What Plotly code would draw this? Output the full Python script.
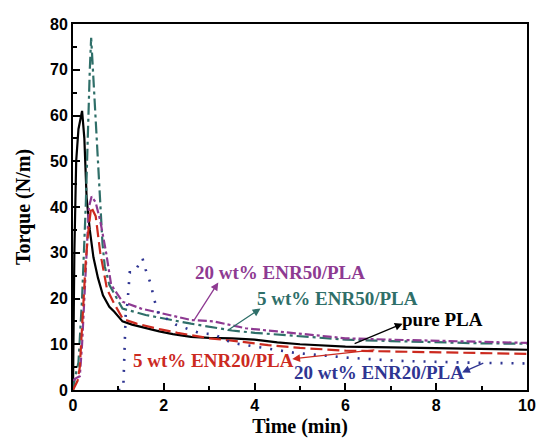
import plotly.graph_objects as go

# Data
t_pla = [0, 0.03, 0.07, 0.12, 0.2, 0.25, 0.3, 0.37, 0.45, 0.55, 0.66, 0.8, 0.91, 1.09, 1.3, 1.6, 1.9, 2.2, 2.6, 3.0, 3.5, 4.0, 4.5, 5.0, 5.5, 6.0, 7.0, 8.0, 9.0, 10.0]
v_pla = [0, 30, 50, 57, 61, 55, 42, 35, 29, 24.5, 20.7, 18.2, 17.1, 15.0, 14.3, 13.5, 12.8, 12.2, 11.6, 11.4, 11.3, 11.0, 10.4, 10.0, 9.7, 9.5, 9.3, 9.1, 8.9, 8.8]

t_e50_5 = [0, 0.05, 0.12, 0.2, 0.28, 0.33, 0.37, 0.4, 0.45, 0.5, 0.55, 0.6, 0.65, 0.7, 0.8, 1.09, 1.6, 2.6, 3.5, 4.0, 5.0, 6.0, 7.0, 8.0, 9.0, 10.0]
v_e50_5 = [0, 3, 6, 20, 40, 60, 70, 77, 68, 58, 50, 40, 32, 27, 23, 17.8, 16.4, 14.5, 13.0, 12.5, 11.8, 11.0, 10.7, 10.4, 10.2, 10.1]

t_e50_20 = [0, 0.05, 0.15, 0.2, 0.25, 0.3, 0.35, 0.41, 0.5, 0.6, 0.73, 0.84, 1.09, 1.5, 1.96, 2.6, 3.1, 3.8, 4.5, 5.0, 6.0, 7.0, 8.0, 9.0, 10.0]
v_e50_20 = [2, 2.5, 3, 10, 20, 30, 40, 42.3, 41, 37, 30, 23, 19.3, 17.8, 16.7, 15.3, 15.0, 13.5, 12.8, 12.3, 11.3, 11.0, 10.8, 10.5, 10.3]

t_e20_5 = [0, 0.1, 0.15, 0.22, 0.28, 0.33, 0.4, 0.5, 0.6, 0.75, 0.9, 1.1, 1.4, 1.9, 2.3, 3.0, 3.5, 4.3, 5.0, 6.0, 7.0, 8.0, 9.0, 10.0]
v_e20_5 = [0, 2, 5, 19, 28, 34, 40, 38, 30, 22, 19, 15.5, 14.5, 13.3, 12.5, 11.3, 10.8, 9.8, 9.2, 8.6, 8.4, 8.2, 8.0, 7.9]

t_e20_20 = [1.0, 1.08, 1.11, 1.13, 1.16, 1.2, 1.25, 1.35, 1.45, 1.53, 1.6, 1.72, 1.78, 1.89, 2.0, 2.26, 2.8, 3.1, 3.5, 4.2, 4.9, 6.0, 7.1, 8.6, 10.0]
v_e20_20 = [0, 0, 1, 10, 16.4, 19, 25.7, 25.7, 27.5, 28.8, 26.3, 23, 20, 16.7, 16, 14.3, 12.4, 12.2, 10.3, 9.2, 8.1, 7.1, 6.4, 6.0, 5.8]

x_ticks = [0, 2, 4, 6, 8, 10]
y_ticks = [0, 10, 20, 30, 40, 50, 60, 70, 80]

C_BLACK = "#000000"
C_TEAL = "#2F6F69"
C_PURPLE = "#8E3A92"
C_RED = "#CC2A1F"
C_BLUE = "#2F3592"

fig = go.Figure()
fig.add_trace(go.Scatter(x=t_pla, y=v_pla, mode="lines", line=dict(color=C_BLACK, width=2.2), name="pure PLA"))
fig.add_trace(go.Scatter(x=t_e50_5, y=v_e50_5, mode="lines", line=dict(color=C_TEAL, width=2.2, dash="12px,4px,3px,4px"), name="5 wt% ENR50/PLA"))
fig.add_trace(go.Scatter(x=t_e50_20, y=v_e50_20, mode="lines", line=dict(color=C_PURPLE, width=2.2, dash="dashdot"), name="20 wt% ENR50/PLA"))
fig.add_trace(go.Scatter(x=t_e20_5, y=v_e20_5, mode="lines", line=dict(color=C_RED, width=2.2, dash="12px,5px"), name="5 wt% ENR20/PLA"))
fig.add_trace(go.Scatter(x=t_e20_20, y=v_e20_20, mode="lines", line=dict(color=C_BLUE, width=2.6, dash="2px,9px"), name="20 wt% ENR20/PLA"))

ann_font = "Liberation Serif"
labels = [
    # text, text x, text y, color, arrow head (x,y), arrow tail (x,y)
    ("20 wt% ENR50/PLA", 4.55, 25.7, C_PURPLE, (3.2, 23.5), (2.65, 15.0)),
    ("5 wt% ENR50/PLA", 5.83, 19.9, C_TEAL, (4.13, 17.8), (3.37, 12.8)),
    ("pure PLA", 8.14, 15.4, C_BLACK, (7.26, 14.5), (6.17, 10.0)),
    ("5 wt% ENR20/PLA", 3.1, 6.4, C_RED, (4.83, 6.8), (6.67, 8.8)),
    ("20 wt% ENR20/PLA", 6.73, 3.85, C_BLUE, (8.57, 3.85), (9.07, 6.0)),
]
annotations = []
for text, tx, ty, col, head, tail in labels:
    annotations.append(dict(x=tx, y=ty, xref="x", yref="y", text="<b>%s</b>" % text, showarrow=False,
                            font=dict(family=ann_font, size=19, color=col)))
    annotations.append(dict(x=head[0], y=head[1], ax=tail[0], ay=tail[1], xref="x", yref="y", axref="x", ayref="y",
                            text="", showarrow=True, arrowhead=2, arrowsize=1.2, arrowwidth=1.3, arrowcolor=col))

fig.update_layout(
    width=536, height=437,
    margin=dict(l=65, r=11, t=8, b=55),
    plot_bgcolor="white", paper_bgcolor="white",
    showlegend=False,
    annotations=annotations,
    xaxis=dict(range=[0, 10], tickvals=x_ticks, ticks="inside", ticklen=7, tickwidth=2, tickcolor="black",
               showline=True, linewidth=2, linecolor="black", mirror=True, showgrid=False, zeroline=False,
               minor=dict(tickvals=[1, 3, 5, 7, 9], ticks="inside", ticklen=4, tickwidth=2, tickcolor="black"),
               tickfont=dict(family="Liberation Sans", size=16, color="black", weight="bold"),
               title=dict(text="<b>Time (min)</b>", font=dict(family="Liberation Serif", size=20, color="black"), standoff=6)),
    yaxis=dict(range=[0, 80], tickvals=y_ticks, ticks="inside", ticklen=7, tickwidth=2, tickcolor="black",
               showline=True, linewidth=2, linecolor="black", mirror=True, showgrid=False, zeroline=False,
               minor=dict(tickvals=[5, 15, 25, 35, 45, 55, 65, 75], ticks="inside", ticklen=4, tickwidth=2, tickcolor="black"),
               tickfont=dict(family="Liberation Sans", size=16, color="black", weight="bold"),
               title=dict(text="<b>Torque (N/m)</b>", font=dict(family="Liberation Serif", size=20, color="black"), standoff=14)),
)

fig.write_html("out.html")
